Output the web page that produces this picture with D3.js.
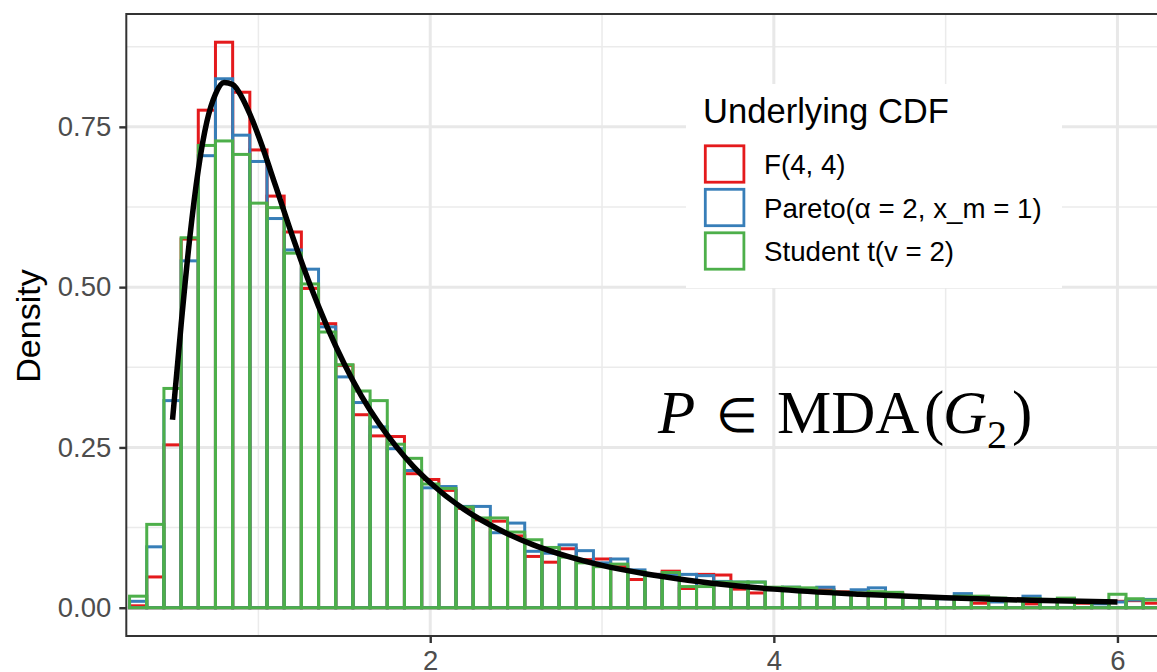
<!DOCTYPE html>
<html>
<head>
<meta charset="utf-8">
<script src="https://cdn.jsdelivr.net/npm/d3@7"></script>
<style>
  html, body { margin: 0; padding: 0; background: #fff; }
  svg { display: block; }
</style>
</head>
<body>
<svg id="chart" width="1157" height="672"></svg>
<script>
// ---------- data ----------
const binCenters = [0.3,0.4,0.5,0.6,0.7,0.8,0.9,1.0,1.1,1.2,1.3,1.4,1.5,1.6,1.7,1.8,1.9,2.0,2.1,2.2,2.3,2.4,2.5,2.6,2.7,2.8,2.9,3.0,3.1,3.2,3.3,3.4,3.5,3.6,3.7,3.8,3.9,4.0,4.1,4.2,4.3,4.4,4.5,4.6,4.7,4.8,4.9,5.0,5.1,5.2,5.3,5.4,5.5,5.6,5.7,5.8,5.9,6.0,6.1,6.2];
const binWidth = 0.1;
const fDensity = [0.003,0.048,0.254,0.575,0.776,0.882,0.804,0.714,0.642,0.586,0.498,0.443,0.378,0.301,0.268,0.267,0.209,0.200,0.183,0.155,0.137,0.135,0.112,0.080,0.071,0.092,0.075,0.076,0.064,0.044,0.052,0.057,0.030,0.052,0.051,0.029,0.023,0.030,0.029,0.027,0.028,0.025,0.022,0.021,0.022,0.019,0.016,0.015,0.016,0.007,0.012,0.013,0.006,0.010,0.011,0.007,0.009,0.010,0.011,0.007];
const paretoDensity = [0.010,0.095,0.323,0.541,0.705,0.825,0.737,0.696,0.607,0.558,0.528,0.438,0.360,0.320,0.282,0.248,0.214,0.187,0.189,0.158,0.158,0.117,0.132,0.088,0.085,0.098,0.089,0.070,0.076,0.059,0.052,0.052,0.052,0.050,0.041,0.040,0.040,0.031,0.032,0.026,0.032,0.024,0.028,0.031,0.020,0.017,0.017,0.014,0.022,0.016,0.009,0.012,0.018,0.012,0.010,0.009,0.006,0.009,0.012,0.013];
const studentDensity = [0.018,0.130,0.342,0.577,0.721,0.728,0.707,0.631,0.624,0.553,0.505,0.430,0.379,0.338,0.323,0.255,0.233,0.193,0.186,0.157,0.140,0.140,0.118,0.106,0.094,0.079,0.070,0.064,0.068,0.056,0.050,0.055,0.033,0.033,0.040,0.040,0.040,0.032,0.032,0.031,0.026,0.024,0.023,0.025,0.024,0.018,0.016,0.016,0.018,0.018,0.015,0.011,0.014,0.013,0.015,0.011,0.008,0.021,0.014,0.012];
const curveX = [0.50,0.55,0.60,0.65,0.70,0.75,0.80,0.85,0.90,0.95,1.00,1.10,1.20,1.30,1.40,1.50,1.60,1.70,1.80,1.90,2.00,2.20,2.40,2.60,2.80,3.00,3.25,3.50,3.75,4.00,4.50,5.00,5.50,6.00];
const curveY = [0.293,0.441,0.576,0.683,0.758,0.801,0.819,0.816,0.798,0.770,0.736,0.658,0.578,0.504,0.438,0.380,0.330,0.288,0.252,0.221,0.195,0.153,0.122,0.098,0.080,0.066,0.053,0.043,0.035,0.029,0.021,0.0154,0.0116,0.0090];
const seriesNames = ["F(4, 4)", "Pareto(α = 2, x_m = 1)", "Student t(v = 2)"];
const seriesColors = ["#E41A1C", "#377EB8", "#4DAF4A"];
const xTicks = [2, 4, 6];
const xMinor = [1, 3, 5];
const yTicks = [0, 0.25, 0.5, 0.75];
const yMinor = [0.125, 0.375, 0.625, 0.875];
const yTickLabels = ["0.00", "0.25", "0.50", "0.75"];
const yTitle = "Density";
const legendTitle = "Underlying CDF";

// ---------- layout ----------
const W = 1157, H = 672;
const P = { left: 126.3, top: 14, right: 1175, bottom: 636 };
const sans = "'Liberation Sans', Arial, Helvetica, sans-serif";
const serif = "'Liberation Serif', 'Times New Roman', serif";

const svg = d3.select("#chart");
const x = d3.scaleLinear().domain([0.231, 6.335]).range([P.left, P.right]);
const y = d3.scaleLinear().domain([-0.0441, 0.926]).range([P.bottom, P.top]);

svg.append("defs").append("clipPath").attr("id", "panelClip")
  .append("rect").attr("x", P.left).attr("y", P.top)
  .attr("width", P.right - P.left).attr("height", P.bottom - P.top);

// grid
const grid = svg.append("g").attr("clip-path", "url(#panelClip)");
grid.selectAll(".ymin").data(yMinor).join("line")
  .attr("x1", P.left).attr("x2", P.right).attr("y1", d => y(d)).attr("y2", d => y(d))
  .attr("stroke", "#EBEBEB").attr("stroke-width", 1.5);
grid.selectAll(".xmin").data(xMinor).join("line")
  .attr("y1", P.top).attr("y2", P.bottom).attr("x1", d => x(d)).attr("x2", d => x(d))
  .attr("stroke", "#EBEBEB").attr("stroke-width", 1.5);
grid.selectAll(".ymaj").data(yTicks).join("line")
  .attr("x1", P.left).attr("x2", P.right).attr("y1", d => y(d)).attr("y2", d => y(d))
  .attr("stroke", "#E8E8E8").attr("stroke-width", 3);
grid.selectAll(".xmaj").data(xTicks).join("line")
  .attr("y1", P.top).attr("y2", P.bottom).attr("x1", d => x(d)).attr("x2", d => x(d))
  .attr("stroke", "#E8E8E8").attr("stroke-width", 3);

// histograms
const allSeries = [fDensity, paretoDensity, studentDensity];
const plot = svg.append("g").attr("clip-path", "url(#panelClip)");
allSeries.forEach((vals, si) => {
  plot.append("g").selectAll("rect").data(binCenters.map((c, i) => ({ c, v: vals[i] })))
    .join("rect")
    .attr("x", d => x(d.c - binWidth / 2))
    .attr("width", d => x(d.c + binWidth / 2) - x(d.c - binWidth / 2))
    .attr("y", d => y(d.v))
    .attr("height", d => y(0) - y(d.v))
    .attr("fill", "none")
    .attr("stroke", seriesColors[si])
    .attr("stroke-width", 3);
});

// density curve
const line = d3.line().x(d => x(d[0])).y(d => y(d[1])).curve(d3.curveMonotoneX);
plot.append("path").datum(curveX.map((v, i) => [v, curveY[i]]))
  .attr("d", line).attr("fill", "none").attr("stroke", "#000").attr("stroke-width", 5.5);

// legend
const lg = svg.append("g");
lg.append("rect").attr("x", 686).attr("y", 84).attr("width", 376).attr("height", 204).attr("fill", "#fff");
lg.append("text").attr("x", 703).attr("y", 123).text(legendTitle)
  .attr("font-family", sans).attr("font-size", 34.6).attr("fill", "#000");
seriesNames.forEach((name, i) => {
  const cy = 164 + i * 43.5;
  lg.append("rect").attr("x", 705.3).attr("y", cy - 18.2).attr("width", 38.6).attr("height", 36.4)
    .attr("fill", "none").attr("stroke", seriesColors[i]).attr("stroke-width", 2.8);
  lg.append("text").attr("x", 764).attr("y", cy + 10).text(name)
    .attr("font-family", sans).attr("font-size", 27.7).attr("fill", "#000");
});

// annotation P ∈ MDA(G2)
const ann = svg.append("g").attr("font-family", serif).attr("fill", "#000");
const annFs = 61, annBase = 433;
function piece(xp, yp, fs, txt, italic) {
  const t = ann.append("text").attr("x", xp).attr("y", yp).attr("font-size", fs).text(txt);
  if (italic) t.attr("font-style", "italic");
  return t;
}
piece(658, annBase, annFs, "P", true);
piece(716, annBase - 1, 48, "∈", false);
piece(777, annBase, annFs, "MDA", false);
piece(924, annBase, annFs, "(", false);
piece(943, annBase, annFs, "G", true);
piece(987, annBase + 15, 40, "2", false);
piece(1012, annBase, annFs, ")", false);

// panel border
svg.append("rect").attr("x", P.left).attr("y", P.top)
  .attr("width", P.right - P.left).attr("height", P.bottom - P.top)
  .attr("fill", "none").attr("stroke", "#333333").attr("stroke-width", 2);

// axes
const yAxis = d3.axisLeft(y).tickValues(yTicks).tickFormat((d, i) => yTickLabels[i]).tickSize(7).tickPadding(8);
const gy = svg.append("g").attr("transform", `translate(${P.left},0)`).call(yAxis);
gy.select(".domain").remove();
gy.selectAll("line").attr("stroke", "#333333").attr("stroke-width", 2.4);
gy.selectAll("text").attr("font-family", sans).attr("font-size", 27.5).attr("fill", "#4D4D4D");

const xAxis = d3.axisBottom(x).tickValues(xTicks).tickFormat(d3.format("d")).tickSize(7).tickPadding(7);
const gx = svg.append("g").attr("transform", `translate(0,${P.bottom})`).call(xAxis);
gx.select(".domain").remove();
gx.selectAll("line").attr("stroke", "#333333").attr("stroke-width", 2.4);
gx.selectAll("text").attr("font-family", sans).attr("font-size", 27.5).attr("fill", "#4D4D4D");

// y title
svg.append("text").attr("transform", `translate(40,326) rotate(-90)`)
  .attr("text-anchor", "middle").attr("font-family", sans).attr("font-size", 34)
  .attr("fill", "#000").text(yTitle);
</script>
</body>
</html>
